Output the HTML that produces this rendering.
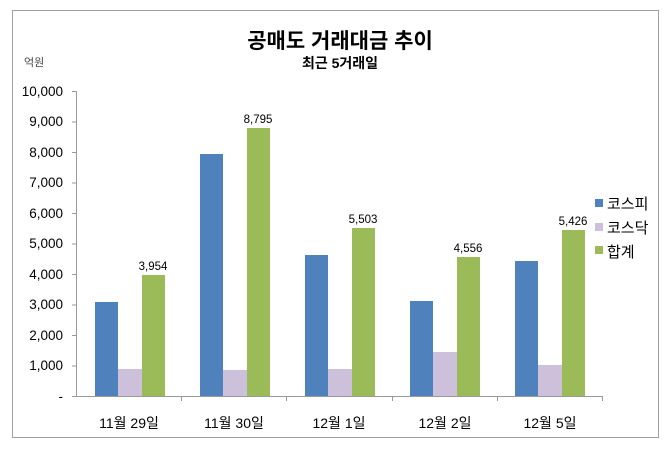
<!DOCTYPE html><html><head><meta charset="utf-8"><style>body{margin:0;background:#fff}</style></head><body>
<svg width="670" height="449" xmlns="http://www.w3.org/2000/svg" font-family="Liberation Sans, Noto Sans CJK KR, sans-serif">
<rect x="0" y="0" width="670" height="449" fill="#fff"/>
<rect x="12.5" y="10.5" width="646" height="427" fill="none" stroke="#a0a0a0"/>
<text x="340" y="48" font-size="21" font-weight="bold" text-anchor="middle" fill="#000">공매도 거래대금 추이</text>
<text x="340" y="68" font-size="14" font-weight="bold" text-anchor="middle" fill="#000">최근 5거래일</text>
<text x="24" y="66" font-size="11" fill="#444">억원</text>
<g font-size="13.5" text-anchor="end" fill="#000">
<text x="63" y="96">10,000</text><text x="63" y="126">9,000</text><text x="63" y="157">8,000</text><text x="63" y="187">7,000</text><text x="63" y="218">6,000</text><text x="63" y="248">5,000</text><text x="63" y="279">4,000</text><text x="63" y="309">3,000</text><text x="63" y="340">2,000</text><text x="63" y="370">1,000</text><text x="63" y="401">-</text>
</g>
<g stroke="#999" stroke-width="1">
<line x1="76.5" y1="91" x2="76.5" y2="396"/>
<line x1="76" y1="396.5" x2="602" y2="396.5"/>
<line x1="72" y1="91.5" x2="76" y2="91.5"/><line x1="72" y1="122" x2="76" y2="122"/><line x1="72" y1="152.5" x2="76" y2="152.5"/><line x1="72" y1="183" x2="76" y2="183"/><line x1="72" y1="213.5" x2="76" y2="213.5"/><line x1="72" y1="244" x2="76" y2="244"/><line x1="72" y1="274.5" x2="76" y2="274.5"/><line x1="72" y1="305" x2="76" y2="305"/><line x1="72" y1="335.5" x2="76" y2="335.5"/><line x1="72" y1="366" x2="76" y2="366"/><line x1="72" y1="396.5" x2="76" y2="396.5"/>
<line x1="181.5" y1="396" x2="181.5" y2="401"/><line x1="286.5" y1="396" x2="286.5" y2="401"/><line x1="392.5" y1="396" x2="392.5" y2="401"/><line x1="497.5" y1="396" x2="497.5" y2="401"/><line x1="602.5" y1="396" x2="602.5" y2="401"/>
</g>
<g>
<rect x="95" y="302" width="23" height="94" fill="#4f81bd"/><rect x="118" y="369" width="24" height="27" fill="#ccc0da"/><rect x="142" y="275" width="23" height="121" fill="#9bbb59"/>
<rect x="200" y="154" width="23" height="242" fill="#4f81bd"/><rect x="223" y="370" width="24" height="26" fill="#ccc0da"/><rect x="247" y="128" width="23" height="268" fill="#9bbb59"/>
<rect x="305" y="255" width="23" height="141" fill="#4f81bd"/><rect x="328" y="369" width="24" height="27" fill="#ccc0da"/><rect x="352" y="228" width="23" height="168" fill="#9bbb59"/>
<rect x="410" y="301" width="23" height="95" fill="#4f81bd"/><rect x="433" y="352" width="24" height="44" fill="#ccc0da"/><rect x="457" y="257" width="23" height="139" fill="#9bbb59"/>
<rect x="515" y="261" width="23" height="135" fill="#4f81bd"/><rect x="538" y="365" width="24" height="31" fill="#ccc0da"/><rect x="562" y="230" width="23" height="166" fill="#9bbb59"/>
</g>
<g font-size="11.5" text-anchor="middle" fill="#000">
<text x="153" y="270">3,954</text><text x="258" y="123">8,795</text><text x="363" y="223">5,503</text><text x="468" y="252">4,556</text><text x="573" y="225">5,426</text>
</g>
<g font-size="14" text-anchor="middle" fill="#000">
<text x="129" y="428">11월 29일</text><text x="234" y="428">11월 30일</text><text x="339" y="428">12월 1일</text><text x="445" y="428">12월 2일</text><text x="550" y="428">12월 5일</text>
</g>
<rect x="595" y="199" width="8" height="8" fill="#4f81bd"/><rect x="595" y="223" width="8" height="8" fill="#ccc0da"/><rect x="595" y="246" width="8" height="8" fill="#9bbb59"/>
<g font-size="15" fill="#000"><text x="607" y="209">코스피</text><text x="607" y="233">코스닥</text><text x="607" y="257">합계</text></g>
</svg></body></html>
